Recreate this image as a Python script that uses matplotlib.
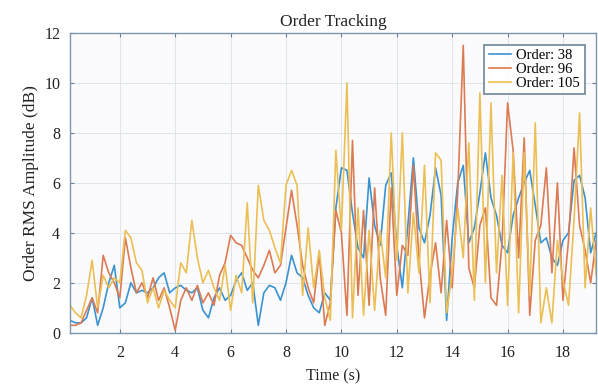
import numpy as np
import matplotlib
matplotlib.use("Agg")
import matplotlib.pyplot as plt

# time grid (s)
t_start, t_step, n_pts = 0.2, 0.2, 96
time = np.round(t_start + t_step * np.arange(n_pts), 2)

order_38 = [0.5, 0.4, 0.4, 0.6, 1.4, 0.3, 1.0, 2.0, 2.7, 1.0,
            1.2, 2.0, 1.6, 1.7, 1.6, 1.8, 2.2, 2.4, 1.6, 1.8,
            1.9, 1.7, 1.6, 1.8, 0.9, 0.6, 1.4, 1.8, 1.3, 1.5,
            2.1, 2.4, 1.7, 2.0, 0.3, 1.6, 1.9, 1.8, 1.3, 2.0,
            3.1, 2.4, 2.2, 1.5, 1.0, 0.8, 1.6, 1.3, 5.0, 6.6,
            6.5, 4.8, 3.4, 3.0, 6.2, 4.3, 3.5, 5.9, 6.4, 3.5,
            1.8, 4.3, 7.0, 4.2, 3.6, 4.7, 6.6, 5.5, 0.5, 3.8,
            6.0, 6.7, 3.6, 4.2, 5.6, 7.2, 5.4, 4.7, 3.5, 3.2,
            4.7, 5.4, 6.0, 6.5, 5.1, 3.6, 3.8, 3.0, 2.7, 3.7,
            4.0, 6.1, 6.3, 5.4, 3.2, 4.0]

order_96 = [0.3, 0.3, 0.4, 0.9, 1.4, 0.8, 3.1, 2.4, 2.0, 1.4,
            3.8, 2.6, 1.6, 2.0, 1.4, 2.2, 1.3, 1.8, 1.0, 0.1,
            1.3, 1.8, 1.3, 1.9, 1.2, 1.6, 1.1, 2.3, 2.8, 3.9,
            3.6, 3.5, 3.0, 2.5, 2.2, 2.7, 3.3, 2.4, 2.7, 4.2,
            5.7, 4.3, 2.7, 1.8, 1.2, 3.2, 0.3, 1.2, 4.9, 4.0,
            0.7, 7.7, 1.5, 4.9, 1.1, 5.8, 2.2, 0.7, 5.8, 1.5,
            3.5, 3.1, 6.7, 3.0, 0.6, 2.3, 3.6, 1.6, 4.5, 1.8,
            5.6, 11.5, 2.6, 1.8, 4.3, 5.0, 1.4, 1.1, 3.6, 9.2,
            7.3, 3.0, 7.8, 0.7, 3.7, 4.3, 6.6, 2.4, 6.0, 1.3,
            3.7, 7.4, 4.3, 3.3, 2.0, 3.7]

order_105 = [1.1, 0.8, 0.6, 1.5, 2.9, 1.0, 2.3, 1.8, 2.2, 2.0,
             4.1, 3.8, 2.8, 2.5, 1.2, 1.8, 1.0, 1.7, 1.3, 1.0,
             2.8, 2.4, 4.5, 3.0, 2.0, 2.5, 1.8, 1.3, 2.7, 0.9,
             2.3, 1.6, 5.2, 1.2, 5.9, 4.5, 4.1, 3.4, 2.8, 5.9,
             6.5, 5.9, 1.5, 4.2, 1.8, 3.3, 1.4, 0.5, 7.3, 4.1,
             10.0, 0.6, 5.0, 0.7, 4.1, 0.9, 4.1, 2.2, 8.0, 2.9,
             8.0, 1.6, 4.8, 2.4, 6.7, 1.2, 7.2, 6.9, 0.8, 2.4,
             5.0, 3.0, 7.6, 1.3, 9.6, 2.0, 9.2, 2.4, 6.3, 1.1,
             7.2, 0.8, 7.2, 1.5, 8.4, 0.4, 1.8, 0.4, 3.7, 2.1,
             1.1, 4.5, 8.8, 1.8, 5.0, 2.3]

labels = ["Order: 38", "Order: 96", "Order: 105"]
colors = ["#3a93d0", "#dc7a52", "#ecbf55"]
x_ticks = [2, 4, 6, 8, 10, 12, 14, 16, 18]
y_ticks = [0, 2, 4, 6, 8, 10, 12]

plt.rcParams['font.family'] = ['Liberation Serif', 'DejaVu Serif']

fig = plt.figure(figsize=(5.98, 3.87), dpi=100)
ax = fig.add_axes([0.117, 0.14, 0.88, 0.775])
ax.set_facecolor("#fbfbfd")

for ser, lab, col in zip([order_38, order_96, order_105], labels, colors):
    ax.plot(time, ser, color=col, lw=1.2, label=lab)

ax.set_xlim(0.2, 19.2)
ax.set_ylim(0, 12)
ax.set_xticks(x_ticks)
ax.set_yticks(y_ticks)
ax.tick_params(direction="in", length=3, width=0.8, labelsize=11.5,
               top=True, right=True, colors="#6a7f95", labelcolor="#222222")
ax.tick_params(axis="x", pad=9)
ax.tick_params(axis="y", pad=7)
ax.grid(True, color="#dfe5ec", lw=0.7)
for s in ax.spines.values():
    s.set_color("#7f95ab")
    s.set_linewidth(1.0)

ax.set_title("Order Tracking", fontsize=12.5, pad=5, color="#222222")
ax.set_xlabel("Time (s)", fontsize=11.5, labelpad=5, color="#222222")
ax.set_ylabel("Order RMS Amplitude (dB)", fontsize=12.5, labelpad=4, color="#222222")

leg = ax.legend(loc="upper right", fontsize=10.5, frameon=True, fancybox=False,
                borderpad=0.3, labelspacing=0.05, handlelength=1.5,
                handletextpad=0.4, borderaxespad=0.8)
leg.get_frame().set_edgecolor("#4a6a80")
leg.get_frame().set_linewidth(1.2)
leg.get_frame().set_facecolor("white")

fig.savefig("out.png", dpi=100)
